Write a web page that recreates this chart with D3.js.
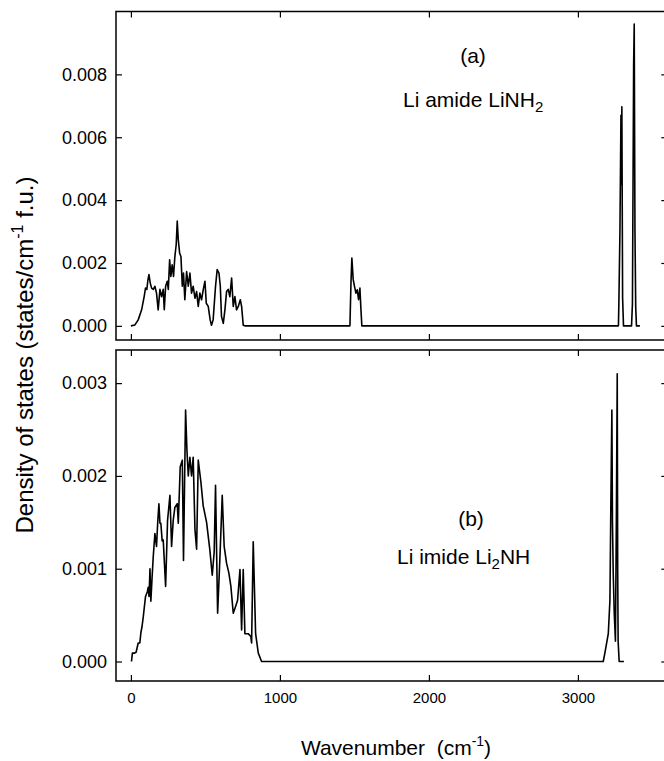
<!DOCTYPE html>
<html>
<head>
<meta charset="utf-8">
<script src="https://cdn.jsdelivr.net/npm/d3@7"></script>
<style>
  body { margin: 0; background: #fff; }
  text { font-family: "Liberation Sans", Arial, Helvetica, sans-serif; fill: #000; }
</style>
</head>
<body>
<script>
var width = 664, height = 761

// Li amide LiNH2, wavenumber (cm-1) and DOS (states/cm-1 f.u.)
var amideWn = [0, 27, 49, 72, 89, 98, 107, 114, 121, 130, 139, 150, 161, 172, 183, 195, 206, 217, 224, 233,
  244, 251, 260, 268, 277, 286, 295, 304, 311, 318, 327, 336, 345, 353, 362, 374, 385, 396, 407, 418,
  430, 441, 452, 463, 474, 486, 497, 506, 519, 532, 541, 552, 568, 579, 591, 600, 608, 620, 631, 642,
  653, 664, 676, 687, 698, 709, 721, 734, 743, 754, 765,
  1470, 1477, 1483, 1492, 1501, 1510, 1519, 1528, 1537, 1544, 1550,
  3272, 3275, 3282, 3289, 3292, 3295, 3300, 3306, 3360, 3366, 3374, 3378, 3383, 3388, 3393, 3416]
var amideDos = [0, 0.00003, 0.00019, 0.00051, 0.00093, 0.0012, 0.00116, 0.00145, 0.00163, 0.00136, 0.0012, 0.00116, 0.00126, 0.00104, 0.00051, 0.00116, 0.00093, 0.00116, 0.00051, 0.00126,
  0.00142, 0.00116, 0.0021, 0.00157, 0.00194, 0.00157, 0.0022, 0.00258, 0.00333, 0.00274, 0.00232, 0.0022, 0.00126, 0.00168, 0.00083, 0.00173, 0.00126, 0.00168, 0.00104, 0.00126,
  0.00088, 0.00109, 0.00062, 0.00104, 0.00083, 0.00116, 0.00142, 0.00072, 0.00062, 0.00019, 0.00002, 0.00019, 0.00126, 0.00179, 0.00168, 0.00126, 0.0003, 0.00008, 0.00051, 0.00109,
  0.00116, 0.00093, 0.00152, 0.00062, 0.00093, 0.00051, 0.00062, 0.00083, 0.00062, 0.00002, 0,
  0, 0.00136, 0.00216, 0.00147, 0.00125, 0.00104, 0.00115, 0.00083, 0.0012, 0.00051, 0,
  0, 0.00073, 0.00296, 0.0067, 0.0045, 0.00697, 0.0009, 0, 0, 0.0007, 0.0083, 0.0096, 0.003, 0.0006, 0, 0]

// Li imide Li2NH
var imideWn = [4, 10, 22, 35, 49, 60, 67, 75, 83, 98, 110, 116, 122, 128, 134, 142, 150, 161, 167, 172,
  180, 188, 195, 201, 210, 217, 233, 246, 262, 273, 284, 295, 311, 318, 331, 345, 353, 367, 376, 385,
  396, 407, 418, 430, 441, 452, 470, 485, 508, 530, 546, 559, 568, 582, 597, 613, 626, 642, 658, 671,
  687, 702, 716, 732, 743, 754, 765, 787, 805, 810, 821, 837, 855, 877,
  3170, 3181, 3204, 3215, 3221, 3228, 3232, 3237, 3244, 3252, 3258, 3264, 3267, 3270, 3277, 3309]
var imideDos = [0, 0.00009, 0.00009, 0.0001, 0.0002, 0.0002, 0.00031, 0.00038, 0.00048, 0.0007, 0.00075, 0.0008, 0.0007, 0.001, 0.00065, 0.0009, 0.00113, 0.00138, 0.0013, 0.00124,
  0.0015, 0.0017, 0.00149, 0.00149, 0.0013, 0.00131, 0.00081, 0.00152, 0.00179, 0.00124, 0.00152, 0.00166, 0.0017, 0.00149, 0.0021, 0.00217, 0.00109, 0.00271, 0.00228, 0.002,
  0.0022, 0.002, 0.0022, 0.00142, 0.00121, 0.00217, 0.00193, 0.00168, 0.0015, 0.0012, 0.00093, 0.00118, 0.0019, 0.00052, 0.0011, 0.00179, 0.00124, 0.00106, 0.00095, 0.00081,
  0.00052, 0.00059, 0.00066, 0.00099, 0.00034, 0.00099, 0.0003, 0.0003, 0.00027, 0.0002, 0.00129, 0.0003, 0.00009, 0,
  0, 0.00009, 0.0003, 0.00066, 0.00167, 0.00271, 0.0015, 0.00096, 0.00052, 0.00022, 0.0015, 0.0031, 0.001, 0.00022, 0, 0]

var xTicks = [0, 1000, 2000, 3000]
var amideTicks = [0, 0.002, 0.004, 0.006, 0.008]
var imideTicks = [0, 0.001, 0.002, 0.003]

var svg = d3.select("body").append("svg")
    .attr("width", width).attr("height", height)

var xScale = d3.scaleLinear().domain([-100, 3600]).range([116, 667.3])

var panels = [
  {id: "a", wn: amideWn, dos: amideDos, ticks: amideTicks, domain: [-0.00045, 0.01], top: 11.5, bottom: 340},
  {id: "b", wn: imideWn, dos: imideDos, ticks: imideTicks, domain: [-0.00021, 0.003357], top: 350, bottom: 681}
]

panels.forEach(function(p, k) {
    var yScale = d3.scaleLinear().domain(p.domain).range([p.bottom, p.top])
    var g = svg.append("g")

    g.append("clipPath").attr("id", "clip" + p.id)
        .append("rect").attr("x", 116).attr("y", p.top)
        .attr("width", 667.3 - 116).attr("height", p.bottom - p.top)

    var line = d3.line()
        .x(function(d, i) { return xScale(p.wn[i]) })
        .y(function(d) { return yScale(d) })

    g.append("path").datum(p.dos)
        .attr("clip-path", "url(#clip" + p.id + ")")
        .attr("d", line)
        .attr("fill", "none").attr("stroke", "#000")
        .attr("stroke-width", 1.6).attr("stroke-linejoin", "round")

    // inward ticks on all four sides
    var yLeft = d3.axisLeft(yScale).tickValues(p.ticks)
        .tickSizeInner(-6).tickSizeOuter(0).tickPadding(9)
        .tickFormat(d3.format(".3f"))
    var yRight = d3.axisRight(yScale).tickValues(p.ticks)
        .tickSizeInner(-6).tickSizeOuter(0).tickFormat("")
    var xTop = d3.axisTop(xScale).tickValues(xTicks)
        .tickSizeInner(-6).tickSizeOuter(0).tickFormat("")
    var xBottom = d3.axisBottom(xScale).tickValues(xTicks)
        .tickSizeInner(-6).tickSizeOuter(0).tickPadding(11)
        .tickFormat(k == 1 ? d3.format("d") : "")

    var gl = g.append("g").attr("transform", "translate(116,0)").call(yLeft)
    g.append("g").attr("transform", "translate(667.3,0)").call(yRight)
    g.append("g").attr("transform", "translate(0," + p.top + ")").call(xTop)
    var gb = g.append("g").attr("transform", "translate(0," + p.bottom + ")").call(xBottom)

    g.selectAll(".domain").remove()
    g.selectAll(".tick line").attr("stroke", "#000").attr("stroke-width", 1.2)
    g.selectAll(".tick text").style("font-family", '"Liberation Sans", Arial, sans-serif')
    gl.selectAll(".tick text").attr("font-size", 18)
    gb.selectAll(".tick text").attr("font-size", 15)

    g.append("rect").attr("x", 116).attr("y", p.top)
        .attr("width", 667.3 - 116).attr("height", p.bottom - p.top)
        .attr("fill", "none").attr("stroke", "#000").attr("stroke-width", 1.5)
})

// panel labels
svg.append("text").attr("x", 473).attr("y", 63).attr("text-anchor", "middle")
    .attr("font-size", 21).text("(a)")
var la = svg.append("text").attr("x", 403).attr("y", 107).attr("font-size", 21)
la.append("tspan").text("Li amide LiNH")
la.append("tspan").attr("font-size", 15).attr("dy", 5).text("2")

svg.append("text").attr("x", 471).attr("y", 526).attr("text-anchor", "middle")
    .attr("font-size", 21).text("(b)")
var lb = svg.append("text").attr("x", 397).attr("y", 564).attr("font-size", 21)
lb.append("tspan").text("Li imide Li")
lb.append("tspan").attr("font-size", 15).attr("dy", 5).text("2")
lb.append("tspan").attr("dy", -5).text("NH")

// axis titles
var xt = svg.append("text").attr("x", 396).attr("y", 755).attr("text-anchor", "middle")
    .attr("font-size", 21).style("white-space", "pre")
xt.append("tspan").text("Wavenumber  (cm")
xt.append("tspan").attr("font-size", 14).attr("dy", -9).text("-1")
xt.append("tspan").attr("dy", 9).text(")")

var yt = svg.append("text").attr("transform", "translate(33,355) rotate(-90)")
    .attr("text-anchor", "middle").attr("font-size", 24)
yt.append("tspan").text("Density of states (states/cm")
yt.append("tspan").attr("font-size", 16).attr("dy", -10).text("-1")
yt.append("tspan").attr("dy", 10).text(" f.u.)")
</script>
</body>
</html>
